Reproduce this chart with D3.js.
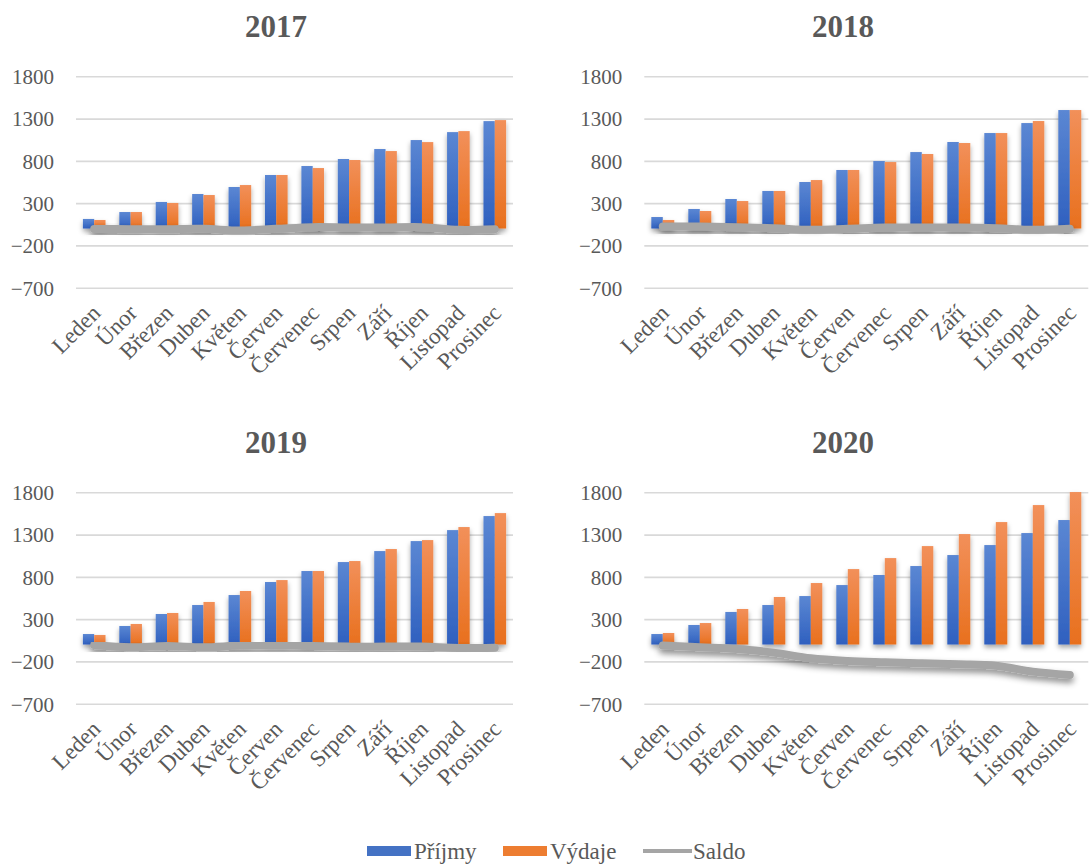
<!DOCTYPE html>
<html>
<head>
<meta charset="utf-8">
<script src="https://cdn.jsdelivr.net/npm/d3@7"></script>
<style>
  body { margin: 0; background: #fff; }
  svg text { font-family: "Liberation Serif", "Times New Roman", serif; fill: #595959; }
</style>
</head>
<body>
<svg id="chart" width="1092" height="864"></svg>
<script>
// months shown on every x axis
const months = ['Leden', 'Únor', 'Březen', 'Duben', 'Květen', 'Červen', 'Červenec', 'Srpen', 'Září', 'Říjen', 'Listopad', 'Prosinec'];
const yTicks = [-700, -200, 300, 800, 1300, 1800];

// values
const prijmy2017 = [113, 195, 314, 408, 491, 633, 739, 822, 940, 1046, 1140, 1270];
const vydaje2017 = [101, 195, 302, 396, 514, 633, 715, 810, 916, 1022, 1152, 1282];
const saldo2017  = [-5, -8, -8, -4, -24, -4, 16, 12, 12, 16, -16, -8];

const prijmy2018 = [136, 231, 349, 444, 550, 692, 798, 904, 1023, 1129, 1247, 1401];
const vydaje2018 = [101, 207, 325, 444, 573, 692, 786, 881, 1011, 1129, 1271, 1401];
const saldo2018  = [24, 24, 16, 4, -16, -4, 12, 12, 12, 4, -16, -4];

const prijmy2019 = [124, 219, 361, 467, 585, 739, 869, 975, 1105, 1223, 1353, 1519];
const vydaje2019 = [113, 243, 373, 503, 633, 762, 869, 987, 1129, 1235, 1389, 1554];
const saldo2019  = [-6, -33, -17, -33, -13, -9, -17, -25, -25, -25, -41, -37];

const prijmy2020 = [124, 231, 385, 467, 573, 703, 822, 928, 1058, 1176, 1318, 1472];
const vydaje2020 = [136, 254, 420, 562, 727, 892, 1022, 1164, 1306, 1448, 1649, 1803];
const saldo2020  = [-13, -33, -53, -96, -163, -195, -210, -222, -234, -250, -321, -360];

const seriesNames = ['Příjmy', 'Výdaje', 'Saldo'];

const panels = [
  { year: '2017', prijmy: prijmy2017, vydaje: vydaje2017, saldo: saldo2017, x0: 76,    x1: 513,    y0: 76.3,  y1: 287.7, titleX: 276 },
  { year: '2018', prijmy: prijmy2018, vydaje: vydaje2018, saldo: saldo2018, x0: 644.3, x1: 1088.3, y0: 76.3,  y1: 287.7, titleX: 843 },
  { year: '2019', prijmy: prijmy2019, vydaje: vydaje2019, saldo: saldo2019, x0: 76,    x1: 513,    y0: 492.3, y1: 703.7, titleX: 276 },
  { year: '2020', prijmy: prijmy2020, vydaje: vydaje2020, saldo: saldo2020, x0: 644.3, x1: 1088.3, y0: 492.3, y1: 703.7, titleX: 843 }
];

const svg = d3.select('#chart');
const defs = svg.append('defs');

// excel-ish gradient bars
const grad = (id, top, bottom) => {
  const g = defs.append('linearGradient').attr('id', id)
    .attr('x1', 0).attr('y1', 0).attr('x2', 0).attr('y2', 1);
  g.append('stop').attr('offset', '0%').attr('stop-color', top);
  g.append('stop').attr('offset', '100%').attr('stop-color', bottom);
};
grad('gBlue', '#5b87d3', '#2f60bf');
grad('gOrange', '#f2905a', '#e8701e');

const shadow = defs.append('filter').attr('id', 'shadow')
  .attr('x', '-20%').attr('y', '-20%').attr('width', '140%').attr('height', '160%');
shadow.append('feDropShadow').attr('dx', 0).attr('dy', 3).attr('stdDeviation', 2.5)
  .attr('flood-color', '#000').attr('flood-opacity', 0.35);

const lineShadow = defs.append('filter').attr('id', 'lineShadow')
  .attr('x', '-10%').attr('y', '-100%').attr('width', '120%').attr('height', '300%');
lineShadow.append('feDropShadow').attr('dx', 0).attr('dy', 4).attr('stdDeviation', 3)
  .attr('flood-color', '#000').attr('flood-opacity', 0.45);

panels.forEach(p => {
  const g = svg.append('g');

  const x = d3.scaleBand().domain(months).range([p.x0, p.x1]).padding(0);
  const xs = d3.scaleBand().domain(['prijmy', 'vydaje'])
    .range([0, x.bandwidth()]).paddingInner(0).paddingOuter(0.61);
  const y = d3.scaleLinear().domain([1800, -700]).range([p.y0, p.y1]);

  // gridlines + tick labels
  const yAxis = d3.axisLeft(y).tickValues(yTicks).tickFormat(d3.format('d'))
    .tickSize(-(p.x1 - p.x0)).tickPadding(22);
  const ya = g.append('g').attr('transform', `translate(${p.x0},0)`).call(yAxis);
  ya.select('.domain').remove();
  ya.selectAll('.tick line').attr('stroke', '#d9d9d9').attr('stroke-width', 1.6);
  ya.selectAll('.tick text').attr('font-size', 21).attr('fill', '#595959')
    .attr('font-family', '"Liberation Serif", serif').attr('dy', '0.35em');

  // title
  g.append('text').attr('x', p.titleX).attr('y', p.y0 - 39)
    .attr('text-anchor', 'middle').attr('font-size', 31).attr('font-weight', 'bold')
    .text(p.year);

  // bars
  const rows = months.map((m, i) => ({ m, prijmy: p.prijmy[i], vydaje: p.vydaje[i] }));
  const bars = g.append('g').attr('filter', 'url(#shadow)');
  ['prijmy', 'vydaje'].forEach(key => {
    bars.selectAll('rect.' + key).data(rows).enter().append('rect')
      .attr('class', key)
      .attr('x', d => x(d.m) + xs(key))
      .attr('width', xs.bandwidth())
      .attr('y', d => y(Math.max(0, d[key])))
      .attr('height', d => Math.abs(y(d[key]) - y(0)))
      .attr('fill', key === 'prijmy' ? 'url(#gBlue)' : 'url(#gOrange)');
  });

  // saldo line
  const line = d3.line()
    .x((d, i) => x(months[i]) + x.bandwidth() / 2)
    .y(d => y(d))
    .curve(d3.curveCatmullRom);
  g.append('path').datum(p.saldo)
    .attr('d', line)
    .attr('fill', 'none')
    .attr('stroke', '#a5a5a5')
    .attr('stroke-width', 8)
    .attr('stroke-linecap', 'round')
    .attr('stroke-linejoin', 'round')
    .attr('filter', 'url(#lineShadow)');

  // rotated month labels
  g.append('g').selectAll('text').data(months).enter().append('text')
    .attr('transform', d => `translate(${x(d) + x.bandwidth() / 2 + 2},${p.y1 + 21}) rotate(-45)`)
    .attr('text-anchor', 'end')
    .attr('dy', '0.35em')
    .attr('font-size', 23)
    .text(d => d);
});

// legend
const legend = svg.append('g');
const legendItems = [
  { name: seriesNames[0], x: 367, kind: 'rect', color: '#4472c4' },
  { name: seriesNames[1], x: 503, kind: 'rect', color: '#ed7d31' },
  { name: seriesNames[2], x: 643, kind: 'line', color: '#a5a5a5' }
];
legendItems.forEach(it => {
  if (it.kind === 'rect') {
    legend.append('rect').attr('x', it.x).attr('y', 846).attr('width', 44).attr('height', 10).attr('fill', it.color);
  } else {
    legend.append('line').attr('x1', it.x).attr('x2', it.x + 49).attr('y1', 851).attr('y2', 851)
      .attr('stroke', it.color).attr('stroke-width', 4);
  }
  legend.append('text').attr('x', it.x + (it.kind === 'rect' ? 47 : 50)).attr('y', 859)
    .attr('font-size', 23).text(it.name);
});
</script>
</body>
</html>
